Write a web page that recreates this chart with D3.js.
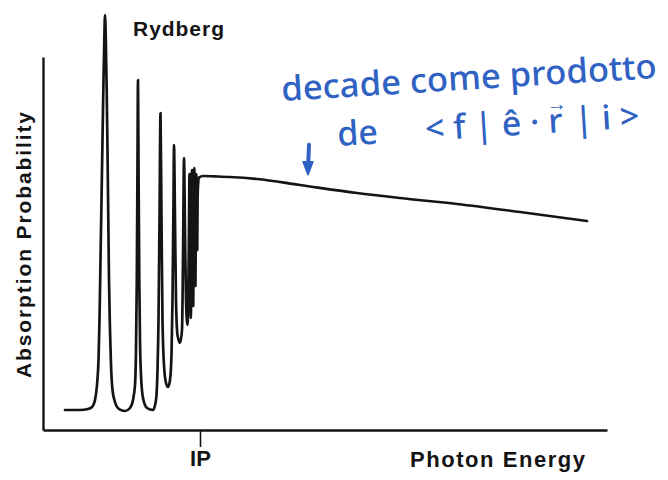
<!DOCTYPE html>
<html>
<head>
<meta charset="utf-8">
<script src="https://cdn.jsdelivr.net/npm/d3@7"></script>
<style>
  html, body { margin: 0; padding: 0; background: #fff; }
  svg { display: block; }
</style>
</head>
<body>
<svg id="chart" width="668" height="480"></svg>
<script>
// Photon energy (arbitrary units) and absorption probability (arbitrary units)
const energy = [
  2.2, 3.7, 4.5, 4.9, 5.2, 5.4, 5.55, 5.65, 5.75, 5.85, 5.95, 6.05, 6.13, 6.2,
  6.28, 6.37, 6.45, 6.53, 6.6, 6.7, 6.8, 6.95, 7.2, 7.6, 8.2,
  8.7, 9.0, 9.2, 9.3, 9.38, 9.44, 9.5, 9.56, 9.63, 9.7, 9.8, 10.0, 10.4, 11.0,
  11.3, 11.45, 11.55, 11.65, 11.75, 11.85, 11.95, 12.1, 12.3, 12.5,
  12.7, 12.85, 12.95, 13.05, 13.1, 13.2, 13.3, 13.45, 13.7,
  13.9, 14.0, 14.1, 14.2, 14.3, 14.45,
  14.58, 14.65, 14.72, 14.78, 14.85, 14.9, 14.96, 15.02, 15.08, 15.13, 15.19,
  15.24, 15.29, 15.33, 15.38, 15.42, 15.46, 15.5,
  15.6, 16.0, 17.2, 18.7, 21.4, 25.7, 31.4, 35.7, 41.4, 47.7, 54.4
];
const absorption = [
  5, 5, 5.25, 5.75, 7.5, 11.25, 17.5, 27.5, 42.5, 57.5, 72.5, 87.5, 97.5, 103.75,
  97.5, 85, 70, 52.5, 37.5, 25, 16.25, 10, 7, 5.25, 4.75,
  5.5, 7.5, 11.25, 20, 37.5, 62.5, 87.5, 62.5, 37.5, 22.5, 13.75, 8, 5.5, 5,
  7.5, 15, 27.5, 52.5, 79.25, 52.5, 27.5, 16.25, 11.75, 10.75,
  12.5, 18.75, 32.5, 57.5, 71.25, 52.5, 32.5, 23.75, 21.75,
  25, 42.5, 68, 50, 32.5, 26.25,
  45, 64, 45, 28, 45, 65, 45, 31, 48, 65.5, 50,
  36, 52, 64, 52, 45, 58, 61,
  63.1, 63.5, 63.4, 63.25, 62.75, 61.25, 59.25, 58, 56.5, 54.5, 52.25
];

// Ionisation potential marked on the energy axis
const ipEnergy = 15.7;
const tickLabels = ["IP"];

// Axis extents
const energyMax = 56.4;
const absorptionAxisTop = 93.25;
const absorptionMax = 105;

// Annotation pointing at the continuum
const annotationEnergy = 26.5;

const svg = d3.select("#chart");
const W = 668, H = 480;
svg.append("rect").attr("width", W).attr("height", H).attr("fill", "#fff");

const x = d3.scaleLinear().domain([0, energyMax]).range([43, 607]);
const y = d3.scaleLinear().domain([0, absorptionMax]).range([430, 10]);

const ink = "#141414";
const labelFont = "'Liberation Sans', Arial, Helvetica, sans-serif";

// Spectrum
const points = energy.map((e, i) => [e, absorption[i]]);
const line = d3.line()
  .x(d => x(d[0]))
  .y(d => y(d[1]))
  .curve(d3.curveMonotoneX);

svg.append("path")
  .datum(points)
  .attr("d", line)
  .attr("fill", "none")
  .attr("stroke", ink)
  .attr("stroke-width", 2.7)
  .attr("stroke-linejoin", "round")
  .attr("stroke-linecap", "round");

// Energy axis with the IP tick
const xAxis = d3.axisBottom(x)
  .tickValues([ipEnergy])
  .tickFormat((d, i) => tickLabels[i])
  .tickSizeInner(17)
  .tickSizeOuter(0)
  .tickPadding(3);

const gx = svg.append("g")
  .attr("transform", `translate(0,${y(0)})`)
  .call(xAxis);
gx.select(".domain").attr("stroke", ink).attr("stroke-width", 2.6);
gx.selectAll(".tick line").attr("stroke", ink).attr("stroke-width", 1.6);
gx.selectAll(".tick text")
  .attr("fill", ink)
  .attr("font-family", labelFont)
  .attr("font-weight", "bold")
  .attr("font-size", 22)
  .attr("dy", "0.71em");

// Absorption axis (no ticks)
const yAxisScale = d3.scaleLinear()
  .domain([0, absorptionAxisTop])
  .range([y(0), y(absorptionAxisTop)]);
const gy = svg.append("g")
  .attr("transform", `translate(${x(0)},0)`)
  .call(d3.axisLeft(yAxisScale).tickValues([]).tickSizeOuter(0));
gy.select(".domain").attr("stroke", ink).attr("stroke-width", 2.4);

// Axis titles
svg.append("text")
  .attr("x", 410).attr("y", 467)
  .attr("font-family", labelFont)
  .attr("font-weight", "bold")
  .attr("font-size", 22)
  .attr("fill", ink)
  .attr("textLength", 175)
  .attr("lengthAdjust", "spacing")
  .text("Photon Energy");

svg.append("text")
  .attr("transform", "translate(31,245) rotate(-90)")
  .attr("text-anchor", "middle")
  .attr("font-family", labelFont)
  .attr("font-weight", "bold")
  .attr("font-size", 21)
  .attr("fill", ink)
  .attr("textLength", 266)
  .attr("lengthAdjust", "spacing")
  .text("Absorption Probability");

svg.append("text")
  .attr("x", 133).attr("y", 36)
  .attr("font-family", labelFont)
  .attr("font-weight", "bold")
  .attr("font-size", 21)
  .attr("fill", ink)
  .attr("textLength", 91)
  .attr("lengthAdjust", "spacing")
  .text("Rydberg");

// Handwritten-style note in blue
const blue = "#2f62c2";
const noteFont = "'Noto Sans', 'Open Sans', sans-serif";

svg.append("text")
  .attr("transform", "translate(282,101) rotate(-3.5)")
  .attr("font-family", noteFont)
  .attr("font-size", 34)
  .attr("font-weight", 500)
  .attr("fill", blue)
  .attr("textLength", 376)
  .attr("lengthAdjust", "spacingAndGlyphs")
  .text("decade come prodotto");

const note2 = svg.append("g")
  .attr("transform", "translate(338,146) rotate(-3.5)")
  .attr("font-family", noteFont)
  .attr("font-size", 34)
  .attr("font-weight", 500)
  .attr("fill", blue);

note2.append("text").attr("x", 0).attr("y", 0).text("de");

const braket = note2.append("text").attr("x", 88).attr("y", 0);
braket.append("tspan").text("< f | ê · ");
braket.append("tspan").text("r");
braket.append("tspan")
  .attr("dx", -15).attr("dy", -22)
  .attr("font-size", 20)
  .text("→");
braket.append("tspan")
  .attr("dx", -2).attr("dy", 22)
  .text(" | i >");

// Arrow down to the continuum
const tipX = x(annotationEnergy);
const tipY = y(61.3) - 10;
svg.append("line")
  .attr("x1", tipX + 1).attr("y1", tipY - 30)
  .attr("x2", tipX).attr("y2", tipY - 6)
  .attr("stroke", blue)
  .attr("stroke-width", 4)
  .attr("stroke-linecap", "round");
svg.append("path")
  .attr("d", `M${tipX - 5},${tipY - 13} L${tipX + 5},${tipY - 13} L${tipX},${tipY} Z`)
  .attr("fill", blue)
  .attr("stroke", blue)
  .attr("stroke-width", 1.5)
  .attr("stroke-linejoin", "round");
</script>
</body>
</html>
